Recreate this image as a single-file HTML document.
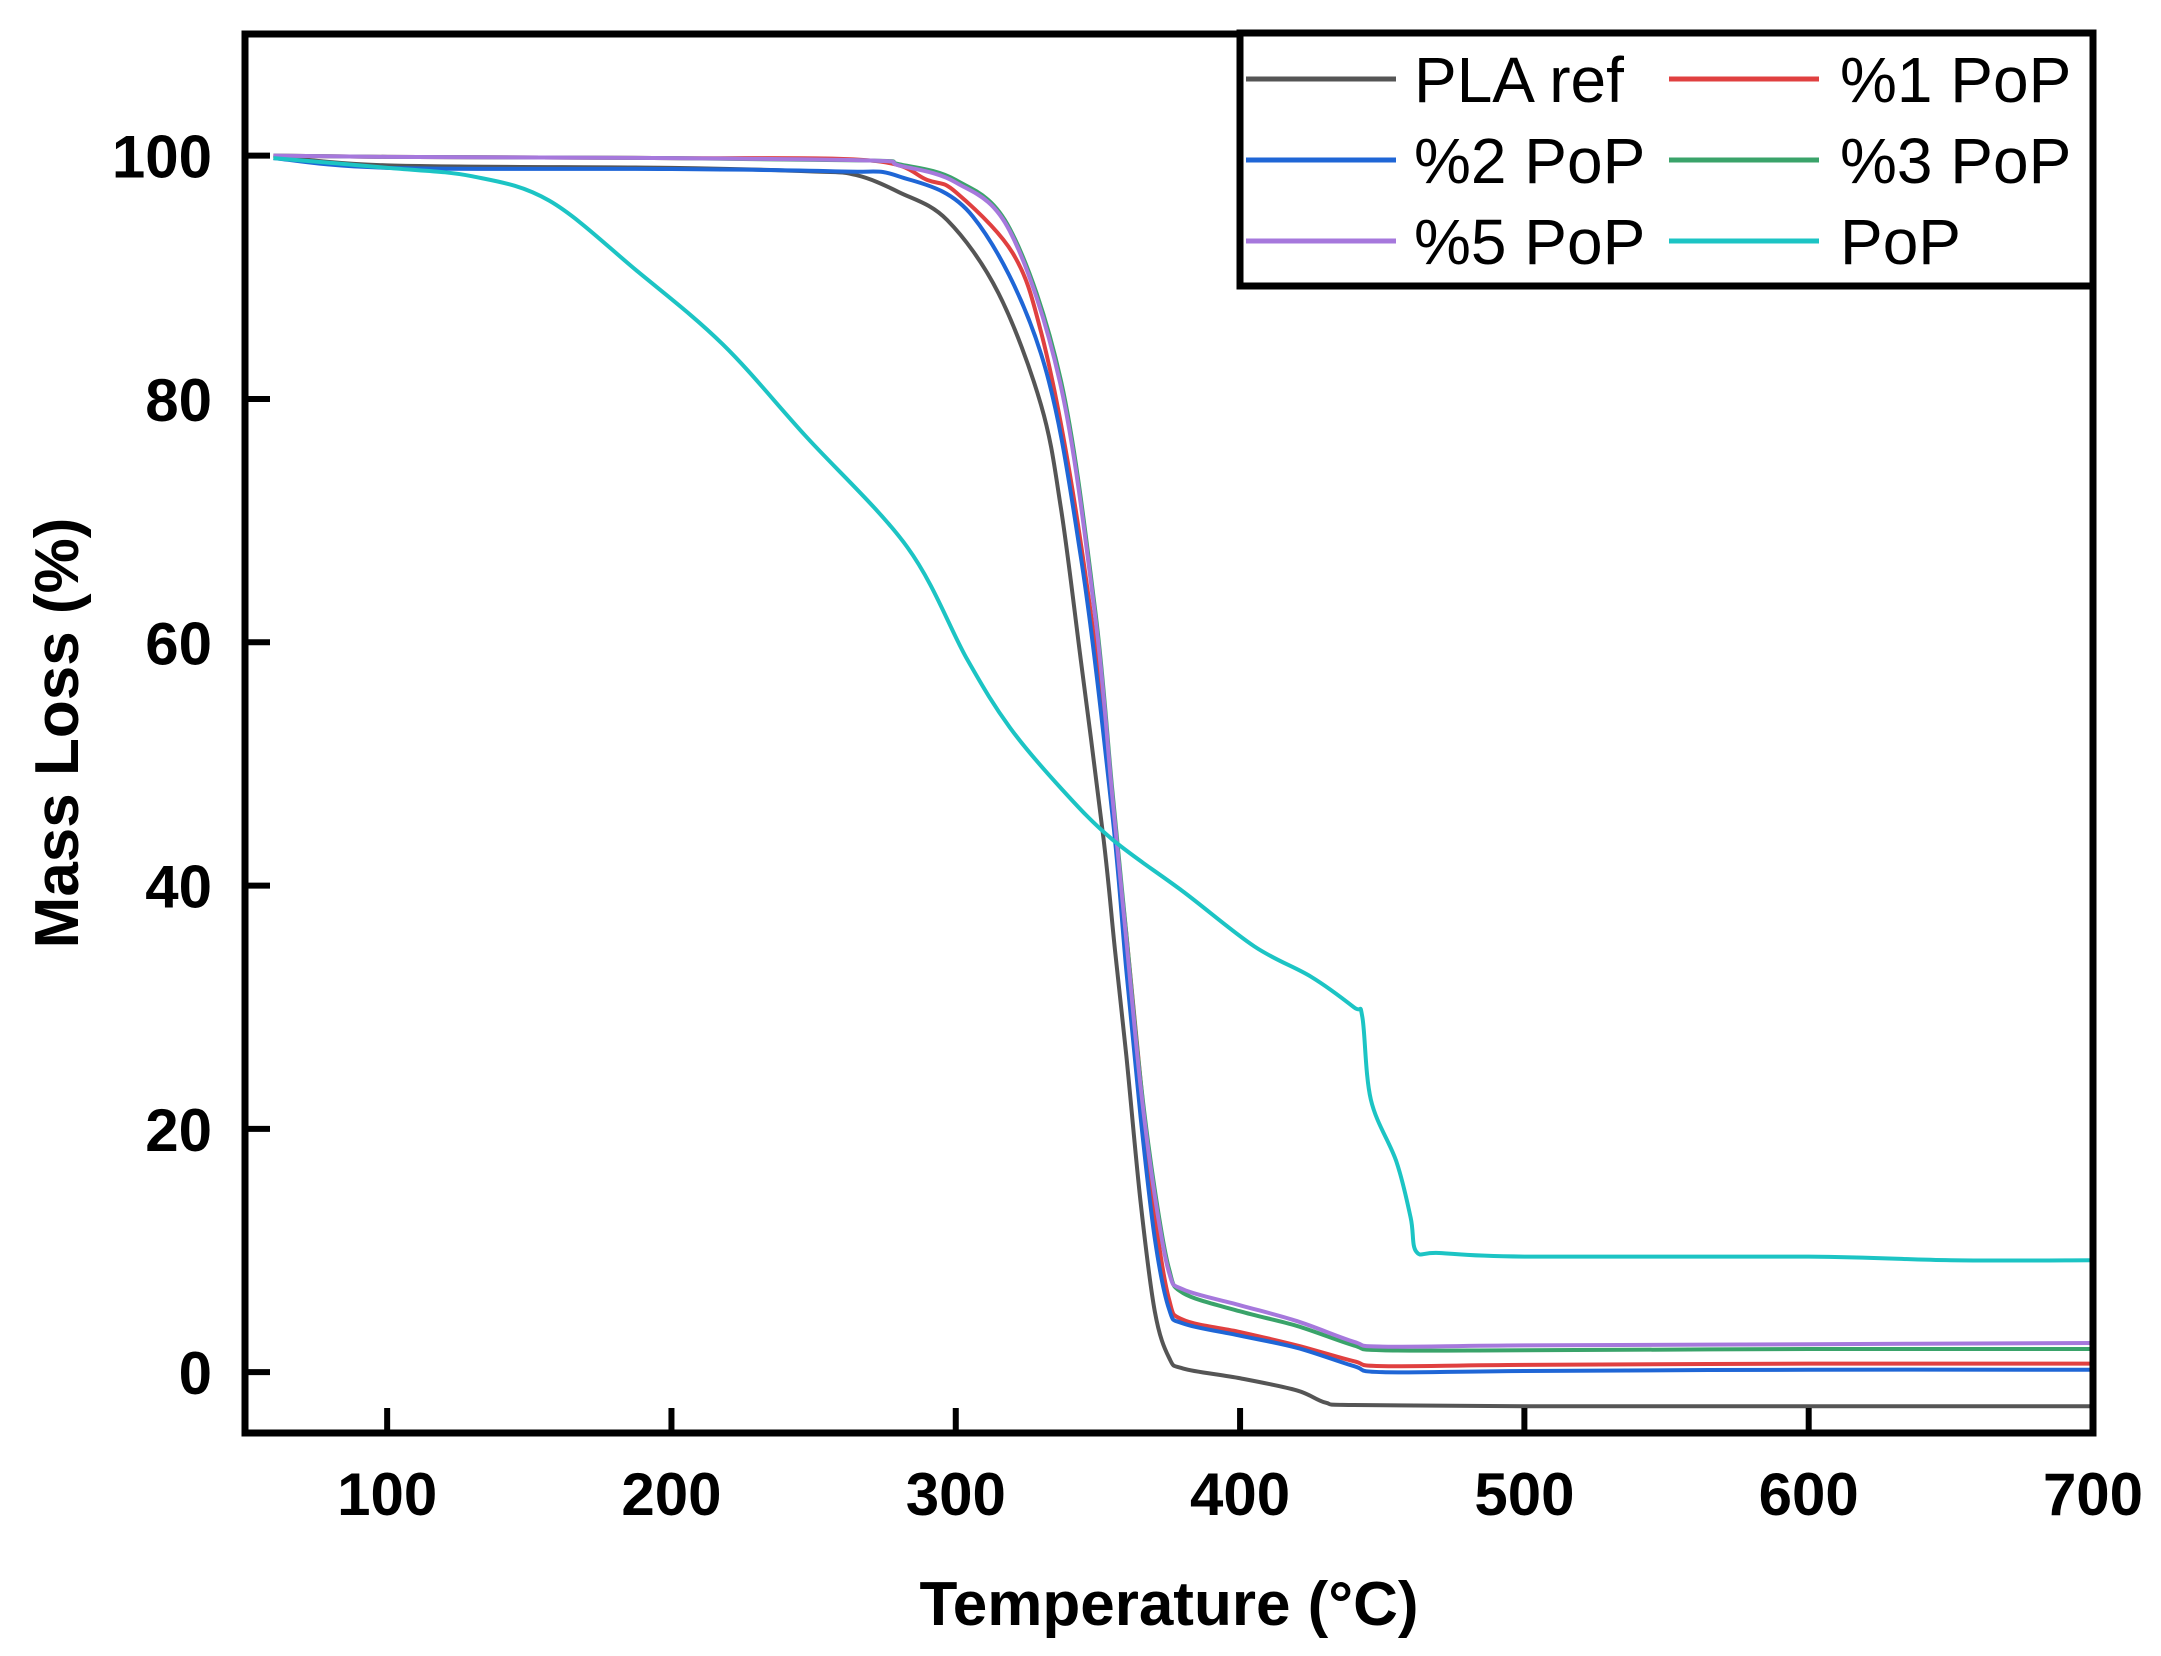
<!DOCTYPE html>
<html><head><meta charset="utf-8"><style>
html,body{margin:0;padding:0;background:#fff;}
svg{display:block;}
text{font-family:"Liberation Sans",Arial,sans-serif;}
</style></head><body>
<svg id="chart" width="2161" height="1656" viewBox="0 0 2161 1656" xmlns="http://www.w3.org/2000/svg"></svg>
<script>
const xTicks = [100, 200, 300, 400, 500, 600, 700];
const yTicks = [0, 20, 40, 60, 80, 100];
const seriesNames = ["PLA ref", "%1 PoP", "%2 PoP", "%3 PoP", "%5 PoP", "PoP"];
const tPLA = [60,100,200,250,265,280,297,315,330,337,344,352,356,360,365,370,375,380,400,420,430,440,500,600,700];
const vPLA = [100,99.2,99,98.7,98.4,97,94.7,88.7,79.5,71,58.5,43.8,34.7,26,14,5,1.2,0.3,-0.5,-1.5,-2.5,-2.7,-2.8,-2.8,-2.8];
const tP1 = [60,100,200,270,290,300,320,330,340,350,355,360,365,370,375,380,400,420,440,450,500,600,700];
const vP1 = [100,99.9,99.8,99.6,98,97,92,85.5,74,58,47,36,24,13,6,4.3,3.3,2.2,0.9,0.5,0.6,0.7,0.7];
const tP2 = [60,100,200,260,280,306,330,344,355,360,365,370,375,380,400,420,440,450,500,600,700];
const vP2 = [99.8,99,98.9,98.7,98.3,95,83.7,67,46,33,21,11,5.2,4,3,2,0.5,0,0.1,0.2,0.2];
const tP3 = [60,100,200,270,280,300,319,337,349,355,360,365,370,375,380,400,420,440,450,500,600,700];
const vP3 = [100,99.9,99.8,99.6,99.3,98,94,81.5,62.7,48,36,24,15,8.5,6.5,5,3.8,2.2,1.8,1.8,1.9,1.9];
const tP5 = [60,100,200,270,280,300,319,337,349,355,360,365,370,375,380,400,420,440,450,500,600,700];
const vP5 = [100,99.9,99.8,99.6,99.2,97.8,93.8,81,62.2,47.5,35.5,23.5,14.5,8.2,6.8,5.5,4.2,2.5,2.1,2.2,2.3,2.4];
const tPoP = [60,100,130,157,188,218,247,283,304,319,337,355,380,405,425,440,443,446,455,460,462,470,500,600,650,700];
const vPoP = [99.8,99,98.3,96.3,90.5,84.5,77,67.8,58.6,53,48,43.8,39.5,35,32.5,30,29.2,22.4,17.3,12.7,9.9,9.8,9.5,9.5,9.2,9.2];
const seriesT = [tPLA, tP1, tP2, tP3, tP5, tPoP];
const seriesV = [vPLA, vP1, vP2, vP3, vP5, vPoP];
const colors = ["#555555","#e04040","#1f66d6","#3aa36a","#a678dc","#1cc4c4"];

const NS = "http://www.w3.org/2000/svg";
const svg = document.getElementById("chart");
const L = 245, R = 2093, T = 34, B = 1433;
const xMin = 50, xMax = 700, yMin = -5, yMax = 110;
const xs = v => L + (v - xMin) / (xMax - xMin) * (R - L);
const ys = v => B - (v - yMin) / (yMax - yMin) * (B - T);
function mk(tag, attrs){ const e = document.createElementNS(NS, tag); for (const k in attrs) e.setAttribute(k, attrs[k]); svg.appendChild(e); return e; }

seriesT.forEach((ts, i) => {
  const pts = ts.map((t, j) => [xs(t), ys(seriesV[i][j])]);
  let d = "M" + pts[0][0] + "," + pts[0][1];
  for (let j = 0; j < pts.length - 1; j++) {
    const p0 = pts[j-1] || pts[j], p1 = pts[j], p2 = pts[j+1], p3 = pts[j+2] || p2;
    const k = 6;
    const c1 = [p1[0] + (p2[0]-p0[0])/k, p1[1] + (p2[1]-p0[1])/k];
    const c2 = [p2[0] - (p3[0]-p1[0])/k, p2[1] - (p3[1]-p1[1])/k];
    d += " C" + c1[0] + "," + c1[1] + " " + c2[0] + "," + c2[1] + " " + p2[0] + "," + p2[1];
  }
  const p = mk("path", {d: d, fill: "none", stroke: colors[i], "stroke-width": 4, "stroke-linejoin": "round"});
  
  
});

const fr = mk("rect", {x: L, y: T, width: R - L, height: B - T, fill: "none", stroke: "#000", "stroke-width": 7});



xTicks.forEach(v => {
  const tk = mk("line", {x1: xs(v), x2: xs(v), y1: B, y2: B - 25, stroke: "#000", "stroke-width": 6});
  
  
  const lb = mk("text", {x: xs(v), y: 1515, "text-anchor": "middle", "font-size": 60, "font-weight": "bold"});
  lb.textContent = v;
  
  
});
yTicks.forEach(v => {
  const tk = mk("line", {x1: L, x2: L + 25, y1: ys(v), y2: ys(v), stroke: "#000", "stroke-width": 6});
  
  
  const lb = mk("text", {x: 212, y: ys(v) + 22, "text-anchor": "end", "font-size": 60, "font-weight": "bold"});
  lb.textContent = v;
  
  
});

const xt = mk("text", {x: 1169, y: 1625, "text-anchor": "middle", "font-size": 62, "font-weight": "bold"});
xt.textContent = "Temperature (°C)";


const yt = mk("text", {x: 0, y: 0, "text-anchor": "middle", "font-size": 62, "font-weight": "bold", transform: "translate(78,733) rotate(-90)"});
yt.textContent = "Mass Loss (%)";



const lg = mk("rect", {x: 1240, y: 33, width: 853, height: 253, fill: "#fff", stroke: "#000", "stroke-width": 7});


const rowsY = [79, 160, 241];
seriesNames.forEach((n, i) => {
  const col = i % 2, row = Math.floor(i / 2);
  const lx = col === 0 ? 1246 : 1669;
  const tx = col === 0 ? 1414 : 1840;
  const yy = rowsY[row];
  const ln = mk("line", {x1: lx, x2: lx + 150, y1: yy, y2: yy, stroke: colors[i], "stroke-width": 5});
  
  
  const tt = mk("text", {x: tx, y: yy + 23, "font-size": 64});
  tt.textContent = n;
  
  
});
</script>
</body></html>
